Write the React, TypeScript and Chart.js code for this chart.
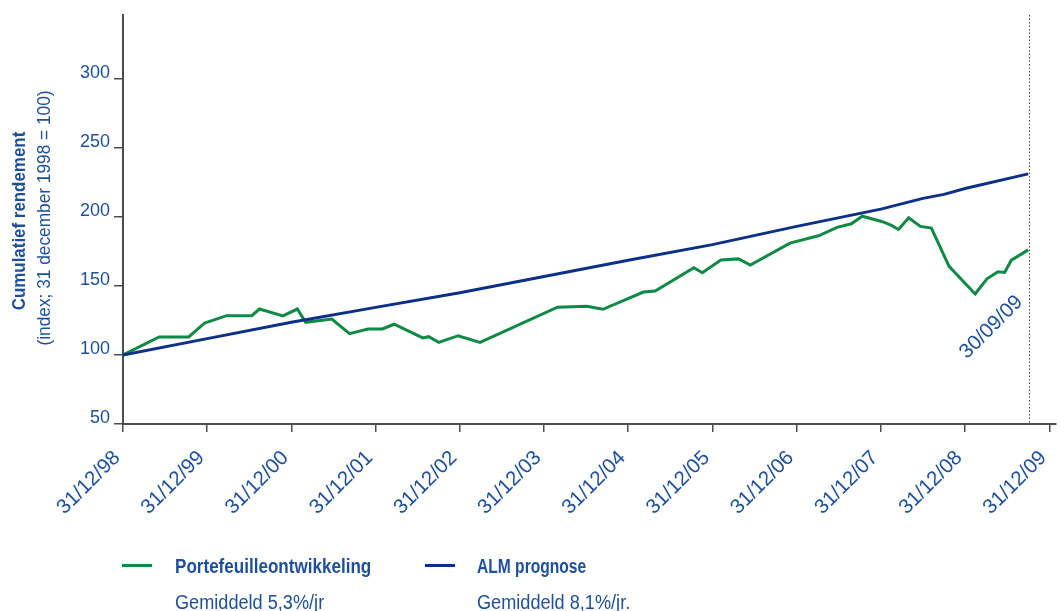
import React, { useEffect, useRef } from "react";
import { Chart, registerables } from "chart.js";

Chart.register(...registerables);

// ---- data (years since 31/12/98, index value) ----
const portfolioYears = [
  0, 0.43, 0.78, 0.97, 1.23, 1.53, 1.62, 1.9, 2.07, 2.17, 2.48, 2.69, 2.91, 3.08, 3.22,
  3.56, 3.63, 3.75, 3.98, 4.24, 5.16, 5.51, 5.7, 6.18, 6.32, 6.78, 6.88, 7.1, 7.31, 7.45,
  7.92, 8.26, 8.48, 8.65, 8.78, 9.01, 9.12, 9.21, 9.33, 9.47, 9.6, 9.81, 10.12, 10.26,
  10.39, 10.47, 10.55, 10.75,
];
const portfolioValues = [
  100, 113, 113, 123.1, 128.4, 128.4, 133.2, 128.2, 133.2, 123.6, 126, 115.4, 118.8, 118.8, 122.2,
  112.3, 113.2, 109.1, 113.9, 109.1, 134.5, 135.2, 133, 145.5, 146.2, 163.1, 159.5, 168.7, 169.5, 165,
  180.9, 186.2, 192.3, 194.9, 200.4, 196.6, 193.9, 190.8, 199.2, 193, 191.8, 164.1, 144.1, 155.1,
  160.2, 159.7, 168.6, 176,
];
const almYears = [0, 1, 2, 3, 4, 5, 6, 7, 8, 9, 9.5, 9.75, 10, 10.75];
const almValues = [100, 111.8, 123.6, 134.4, 145, 156.8, 168.5, 179.8, 193, 205.5, 213.3, 216.2, 220.4, 231];

const xTickYears = [0, 1, 2, 3, 4, 5, 6, 7, 8, 9, 10, 11];
const xTickLabels = [
  "31/12/98", "31/12/99", "31/12/00", "31/12/01", "31/12/02", "31/12/03",
  "31/12/04", "31/12/05", "31/12/06", "31/12/07", "31/12/08", "31/12/09",
];
const yTickValues = [50, 100, 150, 200, 250, 300];
const markerYear = 10.75;
const markerLabel = "30/09/09";
const markerLabelValue = 140.5;
const seriesNames = ["Portefeuilleontwikkeling", "ALM prognose"];
const seriesNotes = ["Gemiddeld 5,3%/jr", "Gemiddeld 8,1%/jr."];
const axisTitle = ["Cumulatief rendement", "(index; 31 december 1998 = 100)"];

const GREEN = "#0e8a44";
const NAVY = "#0c2f87";
const TEXT = "#1d4f9c";
const AXIS = "#4d4d4d";
const FONT = '"Liberation Sans", Arial, sans-serif';

const markerPlugin = {
  id: "markerLine",
  afterDatasetsDraw(chart: any) {
    const { ctx, chartArea, scales } = chart;
    const x = scales.x;
    const y = scales.y;
    const px = Math.round(x.getPixelForValue(markerYear)) + 1.5;
    ctx.save();
    ctx.strokeStyle = "#444";
    ctx.lineWidth = 1;
    ctx.setLineDash([1.5, 2]);
    ctx.beginPath();
    ctx.moveTo(px, chartArea.top);
    ctx.lineTo(px, chartArea.bottom);
    ctx.stroke();
    ctx.setLineDash([]);
    ctx.translate(px - 10, y.getPixelForValue(markerLabelValue));
    ctx.rotate(-Math.PI / 4);
    ctx.fillStyle = TEXT;
    ctx.font = `20.5px ${FONT}`;
    ctx.textAlign = "right";
    ctx.textBaseline = "middle";
    ctx.fillText(markerLabel, 0, 0);
    ctx.restore();
  },
};

export default function App() {
  const canvasRef = useRef<HTMLCanvasElement | null>(null);

  useEffect(() => {
    if (!canvasRef.current) return;
    Chart.defaults.font.family = FONT;
    const chart = new Chart(canvasRef.current, {
      type: "line",
      data: {
        datasets: [
          {
            label: seriesNames[1],
            data: almYears.map((v, i) => ({ x: v, y: almValues[i] })),
            borderColor: NAVY,
            borderWidth: 3,
            pointRadius: 0,
            tension: 0,
            fill: false,
          },
          {
            label: seriesNames[0],
            data: portfolioYears.map((v, i) => ({ x: v, y: portfolioValues[i] })),
            borderColor: GREEN,
            borderWidth: 3,
            pointRadius: 0,
            tension: 0,
            fill: false,
          },
        ],
      },
      options: {
        animation: false,
        responsive: false,
        maintainAspectRatio: false,
        layout: { padding: { top: 15, left: 0, right: 4, bottom: 0 } },
        plugins: { legend: { display: false }, tooltip: { enabled: false } },
        scales: {
          x: {
            type: "linear",
            min: 0,
            max: 11.08,
            afterBuildTicks: (scale: any) => {
              scale.ticks = xTickYears.map((v) => ({ value: v }));
            },
            afterFit: (scale: any) => {
              scale.height = 611 - 424;
              scale.paddingLeft = 0;
              scale.paddingRight = 0;
            },
            grid: { drawOnChartArea: false, drawTicks: true, tickLength: 8, color: AXIS, lineWidth: 1.5 },
            border: { display: true, color: AXIS, width: 2 },
            ticks: {
              autoSkip: false,
              minRotation: 45,
              maxRotation: 45,
              padding: 14,
              labelOffset: -6,
              color: TEXT,
              font: { size: 20.5, family: FONT },
              callback: (_v: any, i: number) => xTickLabels[i],
            },
          },
          y: {
            type: "linear",
            min: 50,
            max: 346,
            afterBuildTicks: (scale: any) => {
              scale.ticks = yTickValues.map((v) => ({ value: v }));
            },
            afterFit: (scale: any) => {
              scale.width = 123;
              scale.paddingTop = 0;
              scale.paddingBottom = 0;
            },
            grid: { drawOnChartArea: false, drawTicks: true, tickLength: 9, color: AXIS, lineWidth: 1.5 },
            border: { display: true, color: AXIS, width: 2 },
            ticks: {
              padding: 4,
              labelOffset: -6,
              color: TEXT,
              font: { size: 18, family: FONT },
              callback: (v: any) => String(v),
            },
          },
        },
      },
      plugins: [markerPlugin],
    });
    return () => chart.destroy();
  }, []);

  const abs = (s: React.CSSProperties): React.CSSProperties => ({ position: "absolute", ...s });

  return (
    <div style={abs({ left: 0, top: 0, width: 1060, height: 611, overflow: "hidden", fontFamily: FONT, color: TEXT, background: "#fff" })}>
      <canvas ref={canvasRef} width={1060} height={611} style={abs({ left: 0, top: 0, width: 1060, height: 611 })} />
      {/* y-axis title */}
      <div
        style={abs({
          left: 18.3,
          top: 220.5,
          whiteSpace: "nowrap",
          fontSize: 19,
          lineHeight: 1,
          fontWeight: "bold",
          transform: "translate(-50%,-50%) rotate(-90deg) scaleX(0.89)",
        })}
      >
        {axisTitle[0]}
      </div>
      <div
        style={abs({
          left: 43.5,
          top: 217.5,
          whiteSpace: "nowrap",
          fontSize: 18,
          lineHeight: 1,
          transform: "translate(-50%,-50%) rotate(-90deg) scaleX(0.96)",
        })}
      >
        {axisTitle[1]}
      </div>
      {/* legend */}
      <div style={abs({ left: 122, top: 564, width: 30, height: 3, background: GREEN })} />
      <div style={abs({ left: 425, top: 564, width: 30, height: 3, background: NAVY })} />
      <div style={abs({ left: 175, top: 556.5, fontSize: 19.5, lineHeight: 1, fontWeight: "bold", whiteSpace: "nowrap", transform: "scaleX(0.875)", transformOrigin: "0 0" })}>
        {seriesNames[0]}
      </div>
      <div style={abs({ left: 477, top: 556.5, fontSize: 19.5, lineHeight: 1, fontWeight: "bold", whiteSpace: "nowrap", transform: "scaleX(0.8)", transformOrigin: "0 0" })}>
        {seriesNames[1]}
      </div>
      <div style={abs({ left: 175, top: 592.5, fontSize: 19.5, lineHeight: 1, whiteSpace: "nowrap", transform: "scaleX(0.93)", transformOrigin: "0 0" })}>
        {seriesNotes[0]}
      </div>
      <div style={abs({ left: 477, top: 592.5, fontSize: 19.5, lineHeight: 1, whiteSpace: "nowrap", transform: "scaleX(0.93)", transformOrigin: "0 0" })}>
        {seriesNotes[1]}
      </div>
    </div>
  );
}
